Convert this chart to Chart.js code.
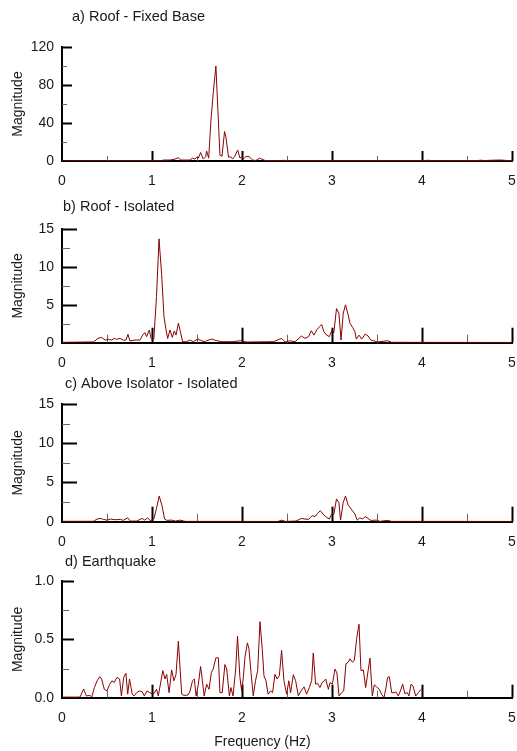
<!DOCTYPE html>
<html>
<head>
<meta charset="utf-8">
<script src="https://cdn.jsdelivr.net/npm/chart.js@4.4.0/dist/chart.umd.min.js"></script>
<style>
  body { margin: 0; background: #fff; overflow: hidden; }
  #wrap { position: relative; width: 517px; height: 751px; }
  .panel { position: absolute; left: 0; width: 517px; }
  canvas { display: block; }
</style>
</head>
<body>
<div id="wrap">
  <div class="panel" style="top:0;height:195px"><canvas id="cA"></canvas></div>
  <div class="panel" style="top:195px;height:178px"><canvas id="cB"></canvas></div>
  <div class="panel" style="top:373px;height:178px"><canvas id="cC"></canvas></div>
  <div class="panel" style="top:551px;height:200px"><canvas id="cD"></canvas></div>
</div>
<script>
// a) Roof - Fixed Base
const freqA = [0, 1.1, 1.126, 1.2, 1.256, 1.293, 1.32, 1.42, 1.45, 1.478, 1.497, 1.515, 1.54, 1.57, 1.596, 1.607, 1.63, 1.655, 1.68, 1.71, 1.755, 1.778, 1.806, 1.822, 1.85, 1.874, 1.896, 1.92, 1.952, 1.978, 1.996, 2.015, 2.045, 2.08, 2.12, 2.155, 2.193, 2.22, 2.256, 2.35, 2.44, 2.46, 2.5, 4.0, 4.07, 4.1, 4.6, 4.65, 4.7, 4.8, 4.88, 4.95, 5.0];
const magA = [0.1, 0.2, 1, 1, 2, 3.5, 1, 1, 3, 2, 4, 3, 9, 2, 4.5, 10.5, 3, 43, 71, 100, 6, 5, 31, 25, 4, 4.5, 2, 5, 11.5, 3, 4.5, 2, 5, 4.5, 1, 0.5, 3, 2, 0.5, 0.3, 0.3, 0.8, 0.3, 0.3, 0.8, 0.3, 0.4, 0.8, 0.5, 0.9, 1.0, 0.5, 0.5];

// b) Roof - Isolated
const freqB = [0, 0.35, 0.4, 0.44, 0.48, 0.515, 0.55, 0.58, 0.607, 0.644, 0.68, 0.71, 0.733, 0.755, 0.81, 0.867, 0.896, 0.92, 0.94, 0.97, 0.99, 1.007, 1.02, 1.05, 1.078, 1.107, 1.133, 1.156, 1.174, 1.2, 1.226, 1.248, 1.267, 1.293, 1.32, 1.34, 1.385, 1.42, 1.46, 1.5, 1.535, 1.58, 1.66, 1.72, 1.775, 1.9, 1.98, 2.05, 2.35, 2.44, 2.48, 2.53, 2.59, 2.66, 2.7, 2.74, 2.77, 2.8, 2.83, 2.86, 2.885, 2.91, 2.94, 2.97, 3.0, 3.02, 3.05, 3.077, 3.1, 3.125, 3.15, 3.18, 3.2, 3.23, 3.255, 3.27, 3.3, 3.33, 3.37, 3.4, 3.43, 3.465, 3.5, 3.62, 3.66, 5];
const magB = [0.05, 0.1, 0.57, 0.7, 0.35, 0.44, 0.35, 0.57, 0.44, 0.57, 0.35, 0.35, 1.1, 0.22, 0.35, 0.35, 1.0, 1.33, 0.8, 1.68, 0.57, 0.35, 0.44, 6.1, 13.7, 9, 3.45, 1.68, 0.57, 1.68, 0.7, 1.55, 1.0, 2.57, 1.24, 0.13, 0.13, 0.35, 0.13, 0.44, 0.35, 0.13, 0.48, 0.26, 0.13, 0.13, 0.26, 0.09, 0.13, 0.57, 0.09, 0.26, 0.13, 0.88, 0.57, 0.8, 1.58, 1.0, 1.67, 2.1, 2.4, 1.45, 1.0, 0.8, 1.67, 1.3, 4.5, 3.9, 0.35, 3.9, 5.0, 3.65, 2.55, 2.0, 1.45, 0.48, 1.0, 0.48, 1.15, 0.9, 0.35, 0.26, 0.09, 0.26, 0.05, 0.03];

// c) Above Isolator - Isolated
const freqC = [0, 0.35, 0.39, 0.425, 0.46, 0.5, 0.54, 0.59, 0.65, 0.68, 0.73, 0.76, 0.83, 0.89, 0.92, 0.95, 0.98, 1.02, 1.05, 1.08, 1.11, 1.14, 1.165, 1.22, 1.26, 1.31, 1.37, 2.4, 2.44, 2.48, 2.6, 2.66, 2.7, 2.74, 2.78, 2.81, 2.84, 2.87, 2.9, 2.93, 2.97, 3.0, 3.02, 3.05, 3.077, 3.095, 3.125, 3.15, 3.18, 3.22, 3.255, 3.28, 3.31, 3.335, 3.37, 3.4, 3.43, 3.5, 3.53, 3.62, 3.66, 5];
const magC = [0.05, 0.05, 0.34, 0.42, 0.3, 0.2, 0.34, 0.25, 0.3, 0.17, 0.5, 0.08, 0.08, 0.42, 0.2, 0.5, 0.13, 0.34, 1.7, 3.27, 2.1, 0.34, 0.17, 0.2, 0.08, 0.2, 0.04, 0.03, 0.2, 0.04, 0.08, 0.42, 0.34, 0.3, 0.77, 0.64, 1.06, 1.4, 0.98, 0.64, 0.34, 1.06, 0.93, 2.9, 2.42, 0.2, 2.46, 3.27, 2.1, 1.5, 0.98, 0.2, 0.5, 0.34, 0.64, 0.42, 0.17, 0.2, 0.04, 0.17, 0.04, 0.03];

// d) Earthquake
const freqD = [0, 0.2, 0.24, 0.27, 0.31, 0.33, 0.36, 0.39, 0.42, 0.44, 0.47, 0.5, 0.53, 0.555, 0.58, 0.61, 0.64, 0.66, 0.685, 0.71, 0.73, 0.75, 0.78, 0.8, 0.83, 0.86, 0.89, 0.915, 0.945, 0.975, 1.0, 1.022, 1.05, 1.07, 1.12, 1.144, 1.163, 1.19, 1.218, 1.244, 1.267, 1.293, 1.33, 1.355, 1.4, 1.42, 1.45, 1.47, 1.49, 1.515, 1.54, 1.56, 1.58, 1.607, 1.633, 1.66, 1.68, 1.71, 1.737, 1.755, 1.78, 1.81, 1.83, 1.86, 1.877, 1.9, 1.93, 1.95, 1.977, 1.996, 2.015, 2.033, 2.06, 2.077, 2.1, 2.125, 2.15, 2.174, 2.2, 2.226, 2.244, 2.266, 2.29, 2.318, 2.34, 2.366, 2.39, 2.415, 2.44, 2.466, 2.496, 2.52, 2.54, 2.57, 2.596, 2.626, 2.655, 2.69, 2.718, 2.748, 2.774, 2.792, 2.818, 2.84, 2.866, 2.89, 2.915, 2.93, 2.96, 2.978, 3.004, 3.033, 3.055, 3.078, 3.107, 3.13, 3.155, 3.18, 3.2, 3.226, 3.248, 3.274, 3.3, 3.322, 3.348, 3.374, 3.396, 3.422, 3.448, 3.47, 3.496, 3.526, 3.55, 3.578, 3.6, 3.618, 3.637, 3.663, 3.69, 3.71, 3.737, 3.76, 3.785, 3.81, 3.837, 3.855, 3.878, 3.9, 3.93, 3.96, 3.99];
const magD = [0.005, 0.005, 0.075, 0.015, 0.02, 0.005, 0.087, 0.145, 0.18, 0.16, 0.072, 0.058, 0.116, 0.145, 0.13, 0.174, 0.16, 0.015, 0.174, 0.21, 0.03, 0.16, 0.03, 0.015, 0.043, 0.058, 0.052, 0.015, 0.058, 0.043, 0.035, 0.035, 0.072, 0.015, 0.232, 0.16, 0.2, 0.043, 0.238, 0.145, 0.2, 0.484, 0.03, 0.02, 0.023, 0.05, 0.145, 0.16, 0.015, 0.116, 0.267, 0.145, 0.015, 0.116, 0.072, 0.217, 0.246, 0.342, 0.342, 0.043, 0.043, 0.284, 0.246, 0.015, 0.087, 0.015, 0.246, 0.527, 0.174, 0.058, 0.174, 0.348, 0.47, 0.42, 0.217, 0.015, 0.145, 0.232, 0.652, 0.406, 0.188, 0.145, 0.03, 0.058, 0.043, 0.2, 0.16, 0.188, 0.406, 0.145, 0.03, 0.145, 0.043, 0.197, 0.145, 0.015, 0.058, 0.093, 0.03, 0.087, 0.145, 0.383, 0.116, 0.122, 0.087, 0.13, 0.145, 0.16, 0.072, 0.13, 0.116, 0.246, 0.21, 0.015, 0.043, 0.058, 0.29, 0.304, 0.333, 0.304, 0.319, 0.507, 0.629, 0.232, 0.238, 0.087, 0.203, 0.339, 0.015, 0.11, 0.093, 0.072, 0.03, 0.0, 0.087, 0.174, 0.18, 0.043, 0.043, 0.05, 0.015, 0.058, 0.116, 0.035, 0.043, 0.015, 0.116, 0.1, 0.015, 0.043, 0.072];

const lineColor = '#8b0000';
const fontFamily = '"Liberation Sans", Arial, sans-serif';

// inner tick marks + panel caption
const panelDecor = {
  id: 'panelDecor',
  beforeDatasetsDraw(chart, args, o) {
    const ctx = chart.ctx;
    const xs = chart.scales.x, ys = chart.scales.y;
    const a = chart.chartArea;
    ctx.save();
    for (let i = 1; i <= 10; i++) {
      const v = i * 0.5, major = i % 2 === 0;
      const px = Math.round(xs.getPixelForValue(v)) + 0.5;
      ctx.beginPath();
      ctx.lineWidth = major ? 2 : 1;
      ctx.strokeStyle = major ? '#000' : '#666';
      ctx.moveTo(px, a.bottom);
      ctx.lineTo(px, a.bottom - (major ? o.xMajor : o.xMinor));
      ctx.stroke();
    }
    const half = o.yStep / 2;
    const n = Math.round(ys.max / half);
    for (let i = 1; i <= n; i++) {
      const major = i % 2 === 0;
      const py = Math.round(ys.getPixelForValue(i * half)) + 0.5;
      ctx.beginPath();
      ctx.lineWidth = major ? 2 : 1;
      ctx.strokeStyle = major ? '#000' : '#666';
      ctx.moveTo(a.left, py);
      ctx.lineTo(a.left + (major ? o.yMajor : o.yMinor), py);
      ctx.stroke();
    }
    ctx.restore();
  },
  afterDraw(chart, args, o) {
    const ctx = chart.ctx;
    ctx.save();
    ctx.fillStyle = '#1a1a1a';
    ctx.textBaseline = 'middle';
    ctx.textAlign = 'left';
    ctx.font = '14.5px ' + fontFamily;
    ctx.fillText(o.caption, o.capX, o.capY);
    if (o.xLabel) {
      ctx.textAlign = 'center';
      ctx.font = '14px ' + fontFamily;
      ctx.fillText(o.xLabel, o.xLabelX, o.xLabelY);
    }
    ctx.restore();
  }
};

function makePanel(id, freq, mag, p) {
  const pts = freq.map((f, i) => ({ x: f, y: mag[i] }));
  new Chart(document.getElementById(id), {
    type: 'line',
    data: {
      datasets: [{
        data: pts,
        borderColor: lineColor,
        borderWidth: 1,
        pointRadius: 0,
        tension: 0
      }]
    },
    options: {
      responsive: true,
      maintainAspectRatio: false,
      animation: false,
      layout: { padding: { top: p.top, right: 5, bottom: 0, left: 0 } },
      plugins: {
        legend: { display: false },
        tooltip: { enabled: false },
        panelDecor: {
          caption: p.caption, capX: p.capX, capY: p.capY,
          xLabel: p.xLabel, xLabelX: 262.5, xLabelY: p.xLabelY,
          xMajor: p.xMajor, xMinor: p.xMinor, yMajor: p.yMajor, yMinor: p.yMinor,
          yStep: p.yStep
        }
      },
      scales: {
        x: {
          type: 'linear', min: 0, max: 5,
          grid: { display: false, drawTicks: false },
          border: { display: true, color: '#000', width: 2 },
          ticks: { stepSize: 1, padding: 12, color: '#1a1a1a', font: { family: fontFamily, size: 14 } },
          afterFit: s => { s.height = p.xh; s.paddingRight = 0; s.paddingLeft = 0; }
        },
        y: {
          min: 0, max: p.yMax,
          grid: { display: false, drawTicks: false },
          border: { display: true, color: '#000', width: 2 },
          ticks: {
            stepSize: p.yStep, padding: 8, color: '#1a1a1a',
            font: { family: fontFamily, size: 14 },
            callback: v => p.dec ? v.toFixed(p.dec) : v
          },
          title: {
            display: true, text: 'Magnitude', color: '#1a1a1a',
            font: { family: fontFamily, size: 14 }, padding: { top: 10, bottom: 0 }
          },
          afterFit: s => { s.width = 62; }
        }
      }
    },
    plugins: [panelDecor]
  });
}

makePanel('cA', freqA, magA, { top: 47, xh: 34, yMax: 120, yStep: 40, caption: 'a) Roof - Fixed Base', capX: 72, capY: 17, xMajor: 10, xMinor: 5, yMajor: 10, yMinor: 5 });
makePanel('cB', freqB, magB, { top: 34, xh: 30.3, yMax: 15, yStep: 5, caption: 'b) Roof - Isolated', capX: 63, capY: 12, xMajor: 15, xMinor: 8, yMajor: 15, yMinor: 8 });
makePanel('cC', freqC, magC, { top: 31, xh: 29.3, yMax: 15, yStep: 5, caption: 'c) Above Isolator - Isolated', capX: 65, capY: 11, xMajor: 15, xMinor: 8, yMajor: 15, yMinor: 8 });
makePanel('cD', freqD, magD, { top: 30, xh: 53.3, yMax: 1.0, yStep: 0.5, dec: 1, caption: 'd) Earthquake', capX: 65, capY: 10.7, xLabel: 'Frequency (Hz)', xLabelY: 190.7, xMajor: 13, xMinor: 7, yMajor: 12, yMinor: 7 });
</script>
</body>
</html>
